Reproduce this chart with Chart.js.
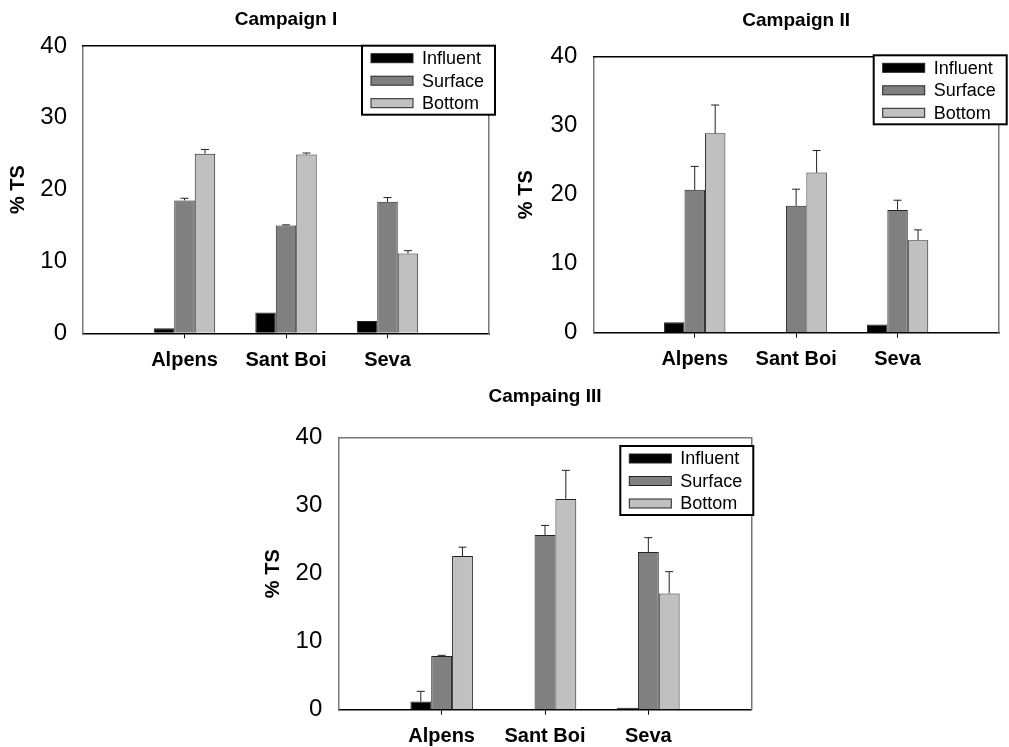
<!DOCTYPE html>
<html>
<head>
<meta charset="utf-8">
<script src="https://cdn.jsdelivr.net/npm/chart.js@4/dist/chart.umd.min.js"></script>
<style>
  body { margin: 0; background: #fff; }
  canvas { position: absolute; }
</style>
</head>
<body>
<canvas id="c1"></canvas>
<canvas id="c2"></canvas>
<canvas id="c3"></canvas>
<script>
// data (% TS)
const categories = ["Alpens", "Sant Boi", "Seva"];
const seriesNames = ["Influent", "Surface", "Bottom"];
const titles = ["Campaign I", "Campaign II", "Campaing III"];
const yTicks = [0, 10, 20, 30, 40];

const c1Influent = [0.7, 2.9, 1.7];
const c1Surface = [18.5, 15.0, 18.3];
const c1Bottom = [25.0, 24.9, 11.1];
const c1InfluentErr = [0, 0, 0];
const c1SurfaceErr = [0.3, 0.1, 0.6];
const c1BottomErr = [0.6, 0.2, 0.4];

const c2Influent = [1.5, 0, 1.2];
const c2Surface = [20.7, 18.4, 17.8];
const c2Bottom = [28.9, 23.2, 13.4];
const c2InfluentErr = [0, 0, 0];
const c2SurfaceErr = [3.4, 2.4, 1.4];
const c2BottomErr = [4.1, 3.2, 1.5];

const c3Influent = [1.2, 0, 0.3];
const c3Surface = [7.9, 25.7, 23.2];
const c3Bottom = [22.6, 31.0, 17.1];
const c3InfluentErr = [1.5, 0, 0];
const c3SurfaceErr = [0.1, 1.4, 2.1];
const c3BottomErr = [1.3, 4.2, 3.2];

const colors = ["#000000", "#808080", "#c0c0c0"];

Chart.defaults.font.family = "'Liberation Sans', Arial, sans-serif";
Chart.defaults.color = "#000";

// upward error bars with a small cap
const errorBars = {
  id: "errorBars",
  afterDatasetsDraw(chart) {
    const ctx = chart.ctx;
    const y = chart.scales.y;
    chart.data.datasets.forEach((ds, i) => {
      const meta = chart.getDatasetMeta(i);
      meta.data.forEach((bar, j) => {
        const e = ds.errors[j];
        const v = ds.data[j];
        if (!e || v == null) return;
        const top = y.getPixelForValue(v + e);
        ctx.save();
        ctx.strokeStyle = "#222";
        ctx.lineWidth = 1;
        ctx.beginPath();
        ctx.moveTo(bar.x, bar.y);
        ctx.lineTo(bar.x, top);
        ctx.moveTo(bar.x - 4, top);
        ctx.lineTo(bar.x + 4, top);
        ctx.stroke();
        ctx.restore();
      });
    });
  }
};

// boxed legend in the upper right corner
const boxLegend = {
  id: "boxLegend",
  afterDraw(chart, args, opts) {
    const ctx = chart.ctx;
    const a = chart.chartArea;
    const w = 133, h = 69;
    const left = a.right + opts.dx - w;
    const top = a.top + opts.dy;
    ctx.save();
    ctx.fillStyle = "#fff";
    ctx.fillRect(left, top, w, h);
    ctx.strokeStyle = "#000";
    ctx.lineWidth = 2;
    ctx.strokeRect(left, top, w, h);
    ctx.font = "18px 'Liberation Sans', Arial, sans-serif";
    ctx.textBaseline = "middle";
    chart.data.datasets.forEach((ds, i) => {
      const cy = top + 12.5 + 22.5 * i;
      ctx.fillStyle = ds.backgroundColor;
      ctx.fillRect(left + 9, cy - 4.5, 42, 9);
      ctx.strokeStyle = "#222";
      ctx.lineWidth = 1;
      ctx.strokeRect(left + 9, cy - 4.5, 42, 9);
      ctx.fillStyle = "#000";
      ctx.fillText(ds.label, left + 60, cy + 1);
    });
    ctx.restore();
  }
};

function pad(arr, fill) {
  return [fill, ...arr, fill];
}

function makeChart(id, title, series, errs, lay) {
  const canvas = document.getElementById(id);
  canvas.width = lay.w;
  canvas.height = lay.h;
  canvas.style.left = lay.left + "px";
  canvas.style.top = lay.top + "px";

  const labels = pad(categories, "");
  const datasets = seriesNames.map((name, i) => ({
    label: name,
    data: pad(series[i], null),
    errors: pad(errs[i], 0),
    backgroundColor: colors[i],
    borderColor: "#222",
    borderWidth: 1
  }));

  const pt = lay.titleY - 11.4;
  const pb = lay.plotTop - 22.8 - pt;

  return new Chart(canvas, {
    type: "bar",
    data: { labels: labels, datasets: datasets },
    options: {
      responsive: false,
      animation: false,
      categoryPercentage: 0.605,
      barPercentage: 1,
      layout: { padding: { left: 0, top: 0, right: lay.padRight, bottom: 0 } },
      plugins: {
        legend: { display: false },
        tooltip: { enabled: false },
        title: {
          display: true,
          text: title,
          fullSize: false,
          font: { size: 19, weight: "bold" },
          color: "#000",
          padding: { top: pt, bottom: pb }
        },
        boxLegend: { dx: lay.legDx, dy: lay.legDy }
      },
      scales: {
        x: {
          type: "category",
          offset: false,
          grid: {
            display: true,
            drawOnChartArea: false,
            drawTicks: true,
            tickLength: 5,
            offset: false,
            color: (c) => (c.index === 0 || c.index === labels.length - 1 ? "rgba(0,0,0,0)" : "#000")
          },
          border: { color: "#000", width: 1.5 },
          ticks: { font: { size: 20, weight: "bold" }, color: "#000", padding: 10, maxRotation: 0, autoSkip: false },
          afterFit: (s) => { s.height = lay.xAxisH; }
        },
        y: {
          min: 0,
          max: 40,
          afterBuildTicks: (s) => { s.ticks = yTicks.map((v) => ({ value: v })); },
          grid: { display: true, drawOnChartArea: false, drawTicks: false },
          border: { color: "#777", width: 1.5 },
          ticks: { font: { size: 24 }, color: "#000", padding: 16 },
          title: {
            display: true,
            text: "% TS",
            font: { size: 20, weight: "bold" },
            color: "#000",
            padding: { top: lay.yTitleX - 12, bottom: 0 }
          },
          afterFit: (s) => { s.width = lay.plotLeft; }
        },
        x2: {
          type: "linear",
          position: "top",
          ticks: { display: false },
          grid: { display: false },
          border: { color: lay.topColor, width: 1.5 },
          afterFit: (s) => { s.height = 0; }
        },
        y2: {
          type: "linear",
          position: "right",
          ticks: { display: false },
          grid: { display: false },
          border: { color: "#777", width: 1.5 },
          afterFit: (s) => { s.width = 0; }
        }
      }
    },
    plugins: [errorBars, boxLegend]
  });
}

makeChart("c1", titles[0],
  [c1Influent, c1Surface, c1Bottom],
  [c1InfluentErr, c1SurfaceErr, c1BottomErr],
  { left: 0, top: 0, w: 500, h: 378, plotLeft: 83, padRight: 11, plotTop: 46, titleY: 19.5,
    xAxisH: 44.7, yTitleX: 18.3, legDx: 6, legDy: -0.3, topColor: "#000" });

makeChart("c2", titles[1],
  [c2Influent, c2Surface, c2Bottom],
  [c2InfluentErr, c2SurfaceErr, c2BottomErr],
  { left: 500, top: 0, w: 509, h: 378, plotLeft: 93.3, padRight: 3, plotTop: 56.7, titleY: 20.8,
    xAxisH: 45.3, yTitleX: 26.7, legDx: 7.7, legDy: -1.4, topColor: "#000" });

makeChart("c3", titles[2],
  [c3Influent, c3Surface, c3Bottom],
  [c3InfluentErr, c3SurfaceErr, c3BottomErr],
  { left: 250, top: 370, w: 520, h: 377, plotLeft: 88.3, padRight: 18.3, plotTop: 67.7, titleY: 26.3,
    xAxisH: 37.3, yTitleX: 23.3, legDx: 1.6, legDy: 8.3, topColor: "#777" });
</script>
</body>
</html>
